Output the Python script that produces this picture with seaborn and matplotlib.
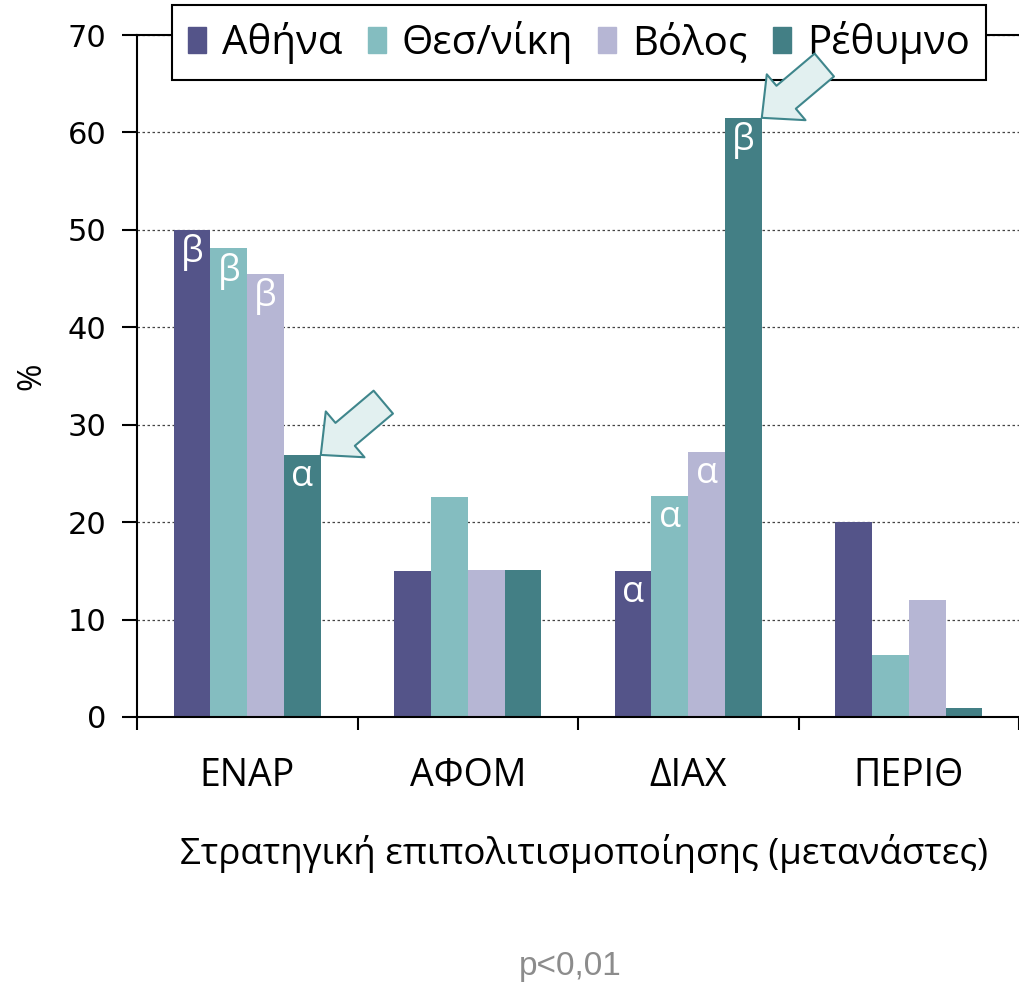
import numpy as np
import pandas as pd
import matplotlib
matplotlib.use("Agg")
import matplotlib.pyplot as plt
import seaborn as sns
from matplotlib.patches import Rectangle

# Data
categories = ["ΕΝΑΡ", "ΑΦΟΜ", "ΔΙΑΧ", "ΠΕΡΙΘ"]
cities = ["Αθήνα", "Θεσ/νίκη", "Βόλος", "Ρέθυμνο"]
athens = [50.0, 15.0, 15.0, 20.0]
thess = [48.1, 22.6, 22.7, 6.4]
volos = [45.5, 15.1, 27.2, 12.0]
rethymno = [26.9, 15.1, 61.5, 0.9]

# significance letters drawn inside the bars
athens_sig = ["β", "", "α", ""]
thess_sig = ["β", "", "α", ""]
volos_sig = ["β", "", "α", ""]
rethymno_sig = ["α", "", "β", ""]

# bars pointed at by the block arrows
arrow_marks = [("ΕΝΑΡ", "Ρέθυμνο"), ("ΔΙΑΧ", "Ρέθυμνο")]

yticks = [0, 10, 20, 30, 40, 50, 60, 70]
colors = ["#545489", "#84BDC0", "#B6B6D4", "#437F85"]
xlabel = "Στρατηγική επιπολιτισμοποίησης (μετανάστες)"
note = "p<0,01"

series = [athens, thess, volos, rethymno]
sigs = [athens_sig, thess_sig, volos_sig, rethymno_sig]
df = pd.DataFrame({
    "cat": np.tile(categories, len(cities)),
    "city": np.repeat(cities, len(categories)),
    "pct": np.concatenate(series),
})

sns.set_theme(style="white")
plt.rcParams["font.family"] = ["Open Sans", "DejaVu Sans"]
plt.rcParams["text.color"] = "black"
plt.rcParams["axes.labelcolor"] = "black"
plt.rcParams["xtick.color"] = "black"
plt.rcParams["ytick.color"] = "black"

fig = plt.figure(figsize=(10.19, 9.84), dpi=100)
ax = fig.add_axes([137 / 1019, 267 / 984, 882 / 1019, 682 / 984])

sns.barplot(data=df, x="cat", y="pct", hue="city", order=categories,
            hue_order=cities, palette=colors, saturation=1, width=0.667,
            linewidth=0, ax=ax, legend=False)

ax.set_xlim(-0.5, 3.48)
ax.set_ylim(0, 70)
ax.set_yticks(yticks)
ax.set_yticklabels([str(t) for t in yticks], family="DejaVu Sans", fontsize=22)
ax.tick_params(axis="y", direction="out", length=11, width=1.5, color="black", pad=11, left=True)

# category ticks at the group boundaries, labels centered
ax.set_xticks(np.arange(-0.5, len(categories), 1.0))
ax.set_xticklabels([])
ax.set_xticks(np.arange(len(categories)), minor=True)
ax.set_xticklabels(categories, minor=True, fontsize=27)
ax.tick_params(axis="x", which="major", direction="out", length=9, width=1.5, color="black", bottom=True)
ax.tick_params(axis="x", which="minor", length=0, pad=29)

ax.yaxis.grid(True, linestyle=(0, (2, 2)), color="#444444", linewidth=0.9)
ax.xaxis.grid(False)
ax.set_axisbelow(True)

for side in ["left", "bottom", "top"]:
    ax.spines[side].set_visible(True)
    ax.spines[side].set_color("black")
    ax.spines[side].set_linewidth(1.5)
ax.spines["right"].set_visible(False)

ax.set_ylabel("%", fontsize=24)
ax.yaxis.set_label_coords(-0.10, 0.5)
ax.set_xlabel(xlabel, fontsize=26.5)
ax.xaxis.set_label_coords(0.507, -0.172)

# letters inside bars
for cont, sig in zip(ax.containers, sigs):
    for bar, s in zip(cont, sig):
        if s:
            ax.annotate(s, (bar.get_x() + bar.get_width() / 2, bar.get_height()),
                        xytext=(0, -3), textcoords="offset points",
                        ha="center", va="top", color="white", fontsize=26)

# legend inside the axes but anchored in figure space, kept below the arrows
handles = [Rectangle((0, 0), 1, 1, color=c) for c in colors]
leg = ax.legend(handles, cities, loc="upper center", bbox_to_anchor=(579 / 1019, 1 - 5 / 984),
                bbox_transform=fig.transFigure,
                ncol=4, fontsize=29, frameon=True, fancybox=False, edgecolor="black",
                handlelength=0.45, handleheight=0.65, handletextpad=0.4,
                columnspacing=0.62, borderpad=0.4, borderaxespad=0)
leg.get_frame().set_linewidth(1.5)
leg.get_frame().set_facecolor("white")
leg.get_frame().set_alpha(1)
leg.set_zorder(5)

# block arrows
for cat, city in arrow_marks:
    bar = ax.containers[cities.index(city)][categories.index(cat)]
    tip = (bar.get_x() + bar.get_width(), bar.get_height())
    arr = ax.annotate("", xy=tip, xytext=(45, 38), textcoords="offset points",
                      annotation_clip=False,
                      arrowprops=dict(arrowstyle="simple,head_length=0.85,head_width=1.6,tail_width=0.8",
                                      mutation_scale=27, fc="#e2f0f0", ec="#3f868c", lw=1.5,
                                      shrinkA=0, shrinkB=0))
    arr.set_zorder(7)
    arr.arrow_patch.set_zorder(7)

fig.text(570 / 1019, 1 - 967 / 984, note, ha="center", va="center",
         fontsize=24, color="#8c8c8c", family="Liberation Sans")

plt.savefig("out.png", dpi=100)
plt.close()
